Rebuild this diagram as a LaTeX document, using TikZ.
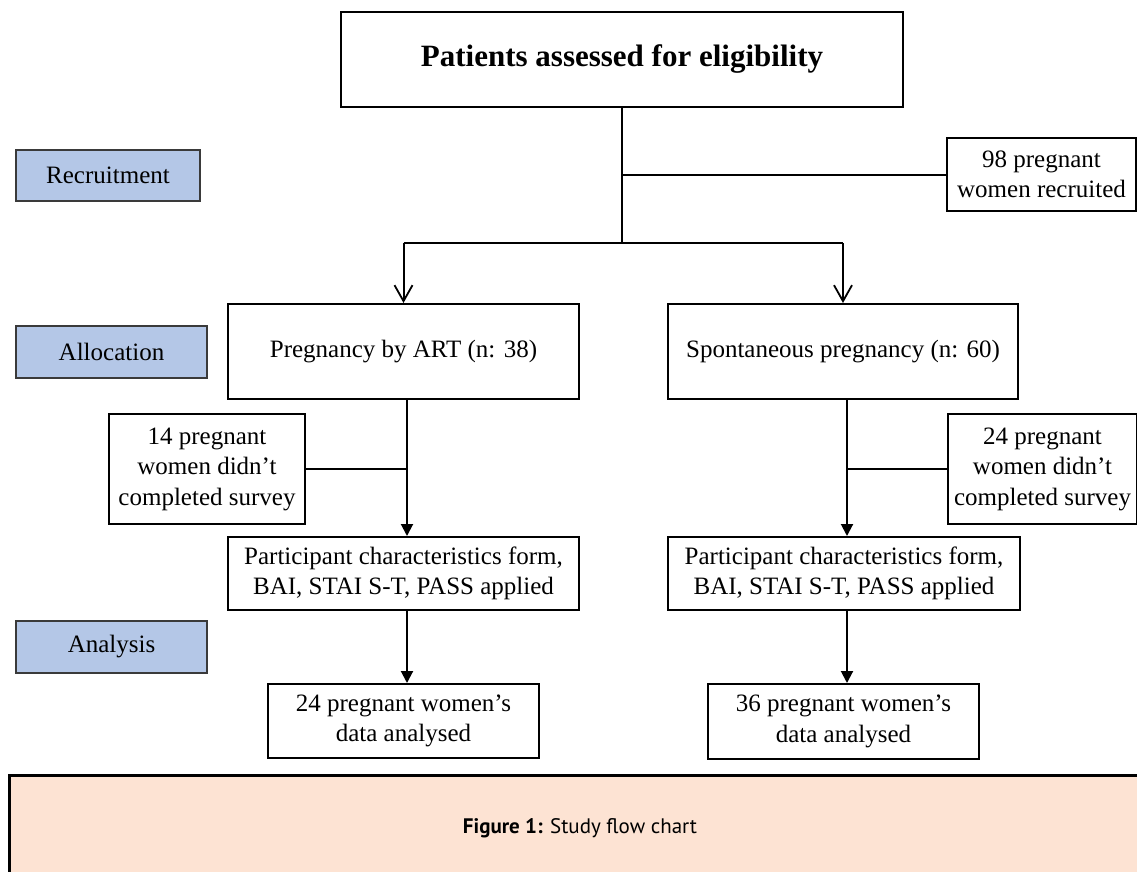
\documentclass[tikz,border=0pt]{standalone}
\usepackage{fontspec}
\setmainfont{Liberation Serif}
\newfontfamily\capfont{PT Sans}
\usetikzlibrary{arrows.meta,calc}
\definecolor{lblblue}{HTML}{B4C7E7}
\definecolor{lblborder}{HTML}{3A3A3A}
\definecolor{capfill}{HTML}{FDE3D3}
\tikzset{
  box/.style={draw=black, line width=2pt, fill=white, inner sep=0pt, align=center,
    font=\fontsize{25}{30.5}\selectfont},
  lbl/.style={draw=lblborder, line width=2pt, fill=lblblue, inner sep=0pt, align=center,
    font=\fontsize{25}{30.5}\selectfont},
  conn/.style={draw=black, line width=2pt},
  openarrow/.style={conn, -{Straight Barb[length=16pt,width=18pt,line width=1.8pt]}},
  fillarrow/.style={conn, -{Triangle[length=12pt,width=12pt]}},
}
\begin{document}
\begin{tikzpicture}[x=1pt,y=-1pt]
\useasboundingbox (0,0) rectangle (1137,872);
\clip (0,0) rectangle (1137,872);
\fill[white] (0,0) rectangle (1137,872);
% columns
\coordinate (colA) at (407,0);
\coordinate (colB) at (847,0);
% nodes
\node[box, minimum width=562pt, minimum height=95pt, font=\fontsize{31}{36}\selectfont\bfseries] (top) at (622,59.5) {Patients assessed for eligibility};
\node[lbl, minimum width=184pt, minimum height=51pt] (recruit) at (108,175.5) {Recruitment};
\node[box, minimum width=189pt, minimum height=73pt] (r98) at (1041.5,174.5) {98 pregnant\\women recruited};
\node[lbl, minimum width=191pt, minimum height=52pt] (alloc) at (111.5,352) {Allocation};
\node[box, minimum width=351pt, minimum height=95pt] (art) at (403.5,351.5) {Pregnancy by ART (n: 38)};
\node[box, minimum width=350pt, minimum height=95pt] (spont) at (843,351.5) {Spontaneous pregnancy (n: 60)};
\node[box, minimum width=196pt, minimum height=110pt] (ex14) at (207,469) {14 pregnant\\women didn’t\\completed survey};
\node[box, minimum width=189pt, minimum height=110pt] (ex24) at (1042.5,469) {24 pregnant\\women didn’t\\completed survey};
\node[box, minimum width=351pt, minimum height=73pt] (partA) at (403.5,573.5) {Participant characteristics form,\\BAI, STAI S-T, PASS applied};
\node[box, minimum width=352pt, minimum height=73pt] (partB) at (844,573.5) {Participant characteristics form,\\BAI, STAI S-T, PASS applied};
\node[lbl, minimum width=191pt, minimum height=52pt] (analysis) at (111.5,647) {Analysis};
\node[box, minimum width=271pt, minimum height=74pt] (dataA) at (403.5,721) {24 pregnant women’s\\data analysed};
\node[box, minimum width=271pt, minimum height=75pt] (dataB) at (843.5,721.5) {36 pregnant women’s\\data analysed};
% connectors
\coordinate (split) at (622,243);
\draw[conn] (top.south) -- (split);
\draw[conn] (top.south |- r98.west) -- (r98.west);
\draw[conn] (split -| art.north) -- (split -| spont.north);
\draw[openarrow] (split -| art.north) -- (art.north);
\draw[openarrow] (split -| spont.north) -- (spont.north);
\draw[fillarrow] (art.south -| colA) -- (partA.north -| colA);
\draw[conn] (ex14.east) -- (ex14.east -| colA);
\draw[fillarrow] (spont.south -| colB) -- (partB.north -| colB);
\draw[conn] (ex24.west) -- (ex24.west -| colB);
\draw[fillarrow] (partA.south -| colA) -- (dataA.north -| colA);
\draw[fillarrow] (partB.south -| colB) -- (dataB.north -| colB);
% caption
\fill[capfill] (9.5,775.5) rectangle (1150,880);
\draw[line width=3pt] (9.5,880) -- (9.5,775.5) -- (1150,775.5);
\node[inner sep=0pt, font=\capfont\fontsize{21}{25}\selectfont] (caption) at (580,828) {\textbf{Figure 1:} Study flow chart};
\end{tikzpicture}
\end{document}
